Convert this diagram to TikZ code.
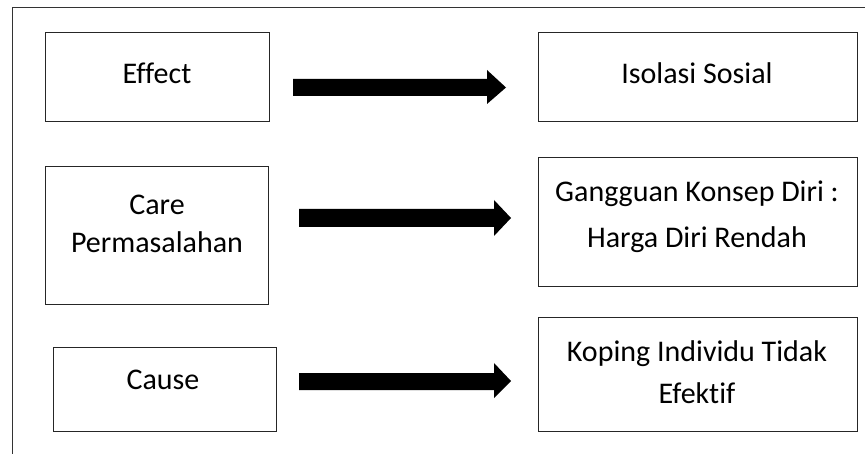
\documentclass[tikz,border=0pt]{standalone}
\usepackage{fontspec}
\setmainfont{Carlito}[Ligatures={NoCommon}]
\begin{document}
\begin{tikzpicture}[x=1pt,y=-1pt,
  box/.style={draw=black!85,line width=1pt,inner sep=0pt},
  label/.style={font=\fontsize{30}{38}\selectfont,anchor=base,inner sep=0pt,align=center},
  blockarrow/.style={fill=black,draw=none}]
\useasboundingbox (0,0) rectangle (865,454);
% outer frame (top and left edges only)
\draw[black!80,line width=1pt] (12.5,454) -- (12.5,7.5) -- (865,7.5);

% left column
\node[box,minimum width=224pt,minimum height=89pt] (effect) at (157,77.5) {};
\node[box,minimum width=223pt,minimum height=138pt] (care) at (157,236) {};
\node[box,minimum width=223pt,minimum height=84pt] (cause) at (164.5,389.5) {};

% right column
\node[box,minimum width=319pt,minimum height=89pt] (isolasi) at (697.5,77.5) {};
\node[box,minimum width=319pt,minimum height=129pt] (gangguan) at (697.5,222.5) {};
\node[box,minimum width=319pt,minimum height=114pt] (koping) at (697.5,374.5) {};

% texts (base anchor = baseline of the last line)
\node[label] (teffect) at (157,84) {Effect};
\node[label] (tcare) at (157,253) {Care\\Permasalahan};
\node[label] (tcause) at (163,389) {Cause};
\node[label] (tisolasi) at (697,84) {Isolasi Sosial};
\node[label] (tgangguan) at (697,248) {Gangguan Konsep Diri :\\[8pt]Harga Diri Rendah};
\node[label] (tkoping) at (697,403) {Koping Individu Tidak\\[4pt]Efektif};

% block arrows between the columns
\fill[blockarrow] (293,79) -- (487,79) -- (487,70) -- (506,87.5) -- (487,104) -- (487,96) -- (293,96) -- cycle;
\fill[blockarrow] (299,209) -- (494,209) -- (494,200) -- (511,218) -- (494,236) -- (494,227) -- (299,227) -- cycle;
\fill[blockarrow] (299,373) -- (494,373) -- (494,363) -- (511,381) -- (494,398) -- (494,390) -- (299,390) -- cycle;
\end{tikzpicture}
\end{document}
